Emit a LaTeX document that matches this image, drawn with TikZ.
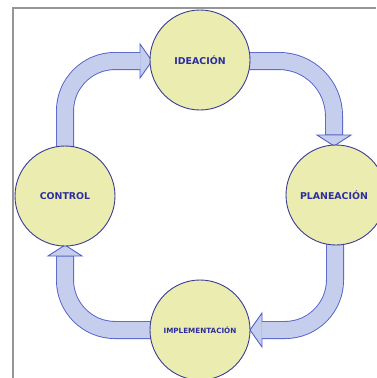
\documentclass[tikz,border=0pt]{standalone}
\usepackage{fontspec}
\setmainfont{DejaVu Sans}
\definecolor{circfill}{RGB}{234,236,176}
\definecolor{circline}{RGB}{60,60,150}
\definecolor{arrfill}{RGB}{198,206,238}
\definecolor{arrline}{RGB}{82,96,200}
\definecolor{txtblue}{RGB}{45,45,160}
\definecolor{framegray}{RGB}{150,150,150}
\begin{document}
\begin{tikzpicture}[x=1pt,y=-1pt,
  phase/.style={circle,draw=circline,fill=circfill,line width=0.9pt,minimum size=100pt,inner sep=0pt,
    text=txtblue,font=\fontsize{9.4}{11}\selectfont\bfseries},
  shaftout/.style={draw=arrline,line width=18pt,rounded corners=#1},
  shaftin/.style={draw=arrfill,line width=16.2pt,rounded corners=#1},
  headst/.style={draw=arrline,fill=arrfill,line width=0.9pt,line join=miter}]
\useasboundingbox (0,0) rectangle (376,378);
\fill[white] (0,0) rectangle (376,378);
% frame
\draw[framegray,line width=1.6pt] (13,378) -- (13,8) -- (376,8);
% circle centres
\coordinate (cI) at (200,60);
\coordinate (cP) at (336,195);
\coordinate (cC) at (65,196);
\coordinate (cM) at (200,330);
% corner coordinates
\coordinate (k1) at (334,61);
\coordinate (k2) at (335,330);
\coordinate (k3) at (65,330);
\coordinate (k4) at (65,61);
% arrow 1: IDEACION -> PLANEACION
\coordinate (s1) at (240,61);
\coordinate (e1) at (334,135);
\draw[shaftout=55] (s1) -- (k1) -- (e1);
\draw[headst] (317,135) -- (351,135) -- (334,146) -- cycle;
\draw[shaftin=55] (s1) -- (k1) -- ([yshift=0.6pt]e1);
% arrow 2: PLANEACION -> IMPLEMENTACION
\coordinate (s2) at (335,240);
\coordinate (e2) at (262,330);
\draw[shaftout=50] (s2) -- (k2) -- (e2);
\draw[headst] (262,313) -- (262,347) -- (250,330) -- cycle;
\draw[shaftin=50] (s2) -- (k2) -- ([xshift=-0.6pt]e2);
% arrow 3: IMPLEMENTACION -> CONTROL
\coordinate (s3) at (160,330);
\coordinate (e3) at (65,256);
\draw[shaftout=50] (s3) -- (k3) -- (e3);
\draw[headst] (48,256) -- (82,256) -- (65,245) -- cycle;
\draw[shaftin=50] (s3) -- (k3) -- ([yshift=-0.6pt]e3);
% arrow 4: CONTROL -> IDEACION
\coordinate (s4) at (65,150);
\coordinate (e4) at (140,61);
\draw[shaftout=50] (s4) -- (k4) -- (e4);
\draw[headst] (140,44) -- (140,78) -- (152,61) -- cycle;
\draw[shaftin=50] (s4) -- (k4) -- ([xshift=0.6pt]e4);
% circles
\node[phase] (ide) at (cI) {IDEACIÓN};
\node[phase] (pla) at (cP) {};
\node[text=txtblue,font=\fontsize{9.4}{11}\selectfont\bfseries] (plat) at (334,195) {PLANEACIÓN};
\node[phase] (con) at (cC) {CONTROL};
\node[phase,font=\fontsize{7.2}{9}\selectfont\bfseries] (imp) at (cM) {IMPLEMENTACIÓN};
\end{tikzpicture}
\end{document}
